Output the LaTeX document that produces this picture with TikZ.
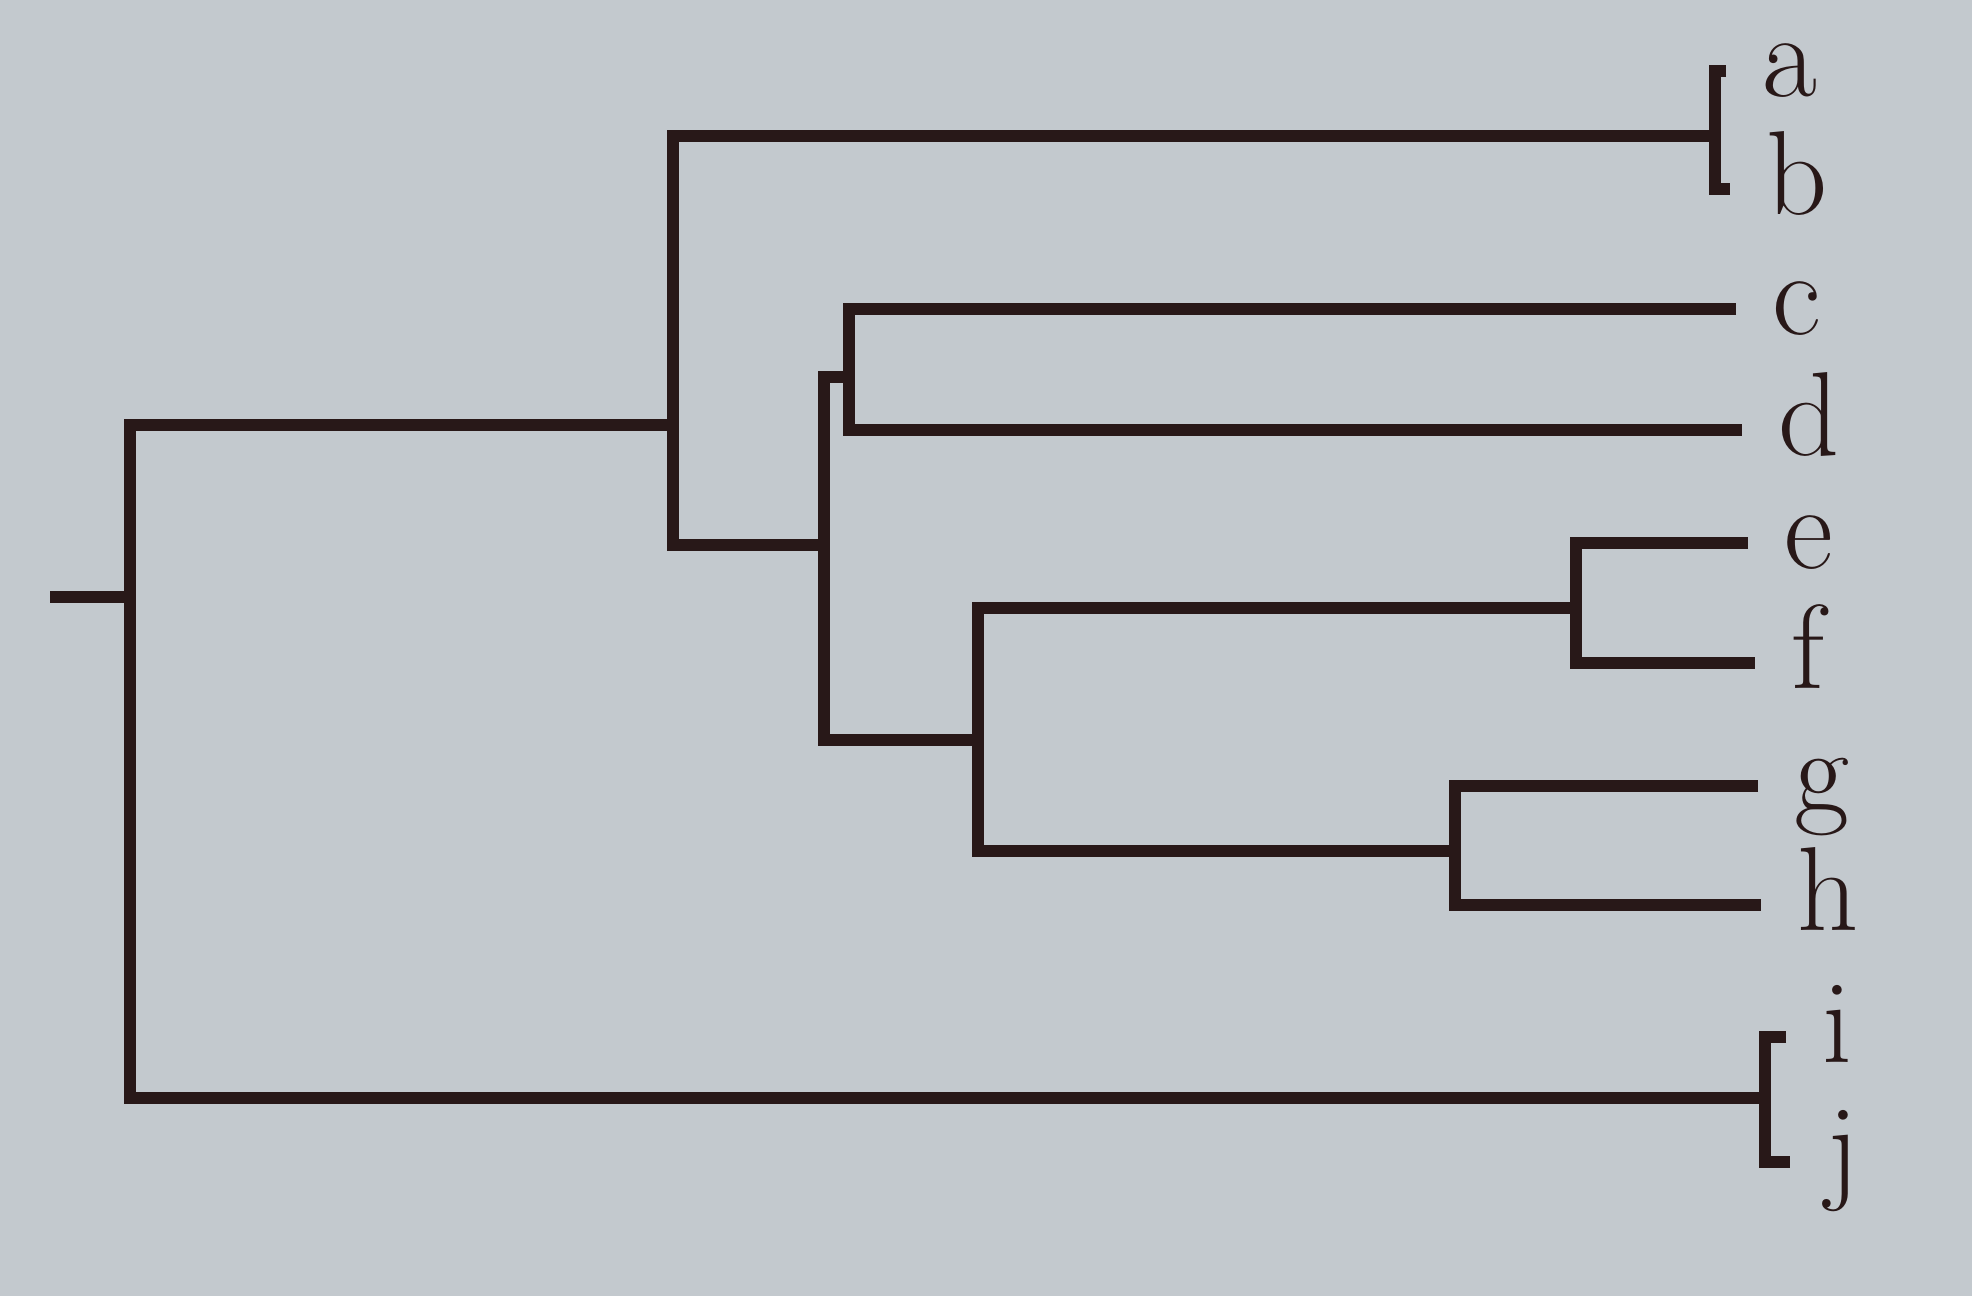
\documentclass[tikz,border=0pt]{standalone}
\usepackage{tikz}
\usetikzlibrary{positioning}
\definecolor{paper}{RGB}{195,201,206}
\definecolor{ink}{RGB}{40,24,24}
\begin{document}
\begin{tikzpicture}[x=0.01cm,y=-0.01cm,line width=3.2pt,ink,
  leaf/.style={anchor=west,inner sep=0pt,outer sep=10.5pt,text height=14.6pt,text depth=0pt,font=\fontsize{34}{40}\selectfont}]
      \fill[paper] (0,0) rectangle (1972,1296);
      % junctions of the tree
      \coordinate (stub) at (50,597);
      \coordinate (R) at (130,597);
      \coordinate (A) at (673,425);
      \coordinate (AB) at (1715,136);
      \coordinate (B) at (824,545);
      \coordinate (CD) at (849,377);
      \coordinate (EFGH) at (978,740);
      \coordinate (EF) at (1576,608);
      \coordinate (GH) at (1455,851);
      \coordinate (IJ) at (1765,1098);
      % leaves
      \node[leaf] (a) at (1726,71) {a};
      \node[leaf] (b) at (1730,189) {b};
      \node[leaf] (c) at (1736,309) {c};
      \node[leaf] (d) at (1742,430) {d};
      \node[leaf] (e) at (1748,543) {e};
      \node[leaf] (f) at (1755,663) {f};
      \node[leaf] (g) at (1758,786) {g};
      \node[leaf] (h) at (1761,905) {h};
      \node[leaf] (i) at (1786,1037) {i};
      \node[leaf] (j) at (1790,1162) {j};
      \draw (stub) -- (R);
      \draw (A) -| (R) |- (IJ);
      \draw (AB) -| (A) |- (B);
      \draw (CD) -| (B) |- (EFGH);
      \draw (EF) -| (EFGH) |- (GH);
      \draw (a.west) -| (AB) |- (b.west);
      \draw (c.west) -| (CD) |- (d.west);
      \draw (e.west) -| (EF) |- (f.west);
      \draw (g.west) -| (GH) |- (h.west);
      \draw (i.west) -| (IJ) |- (j.west);
    \end{tikzpicture}
\end{document}
